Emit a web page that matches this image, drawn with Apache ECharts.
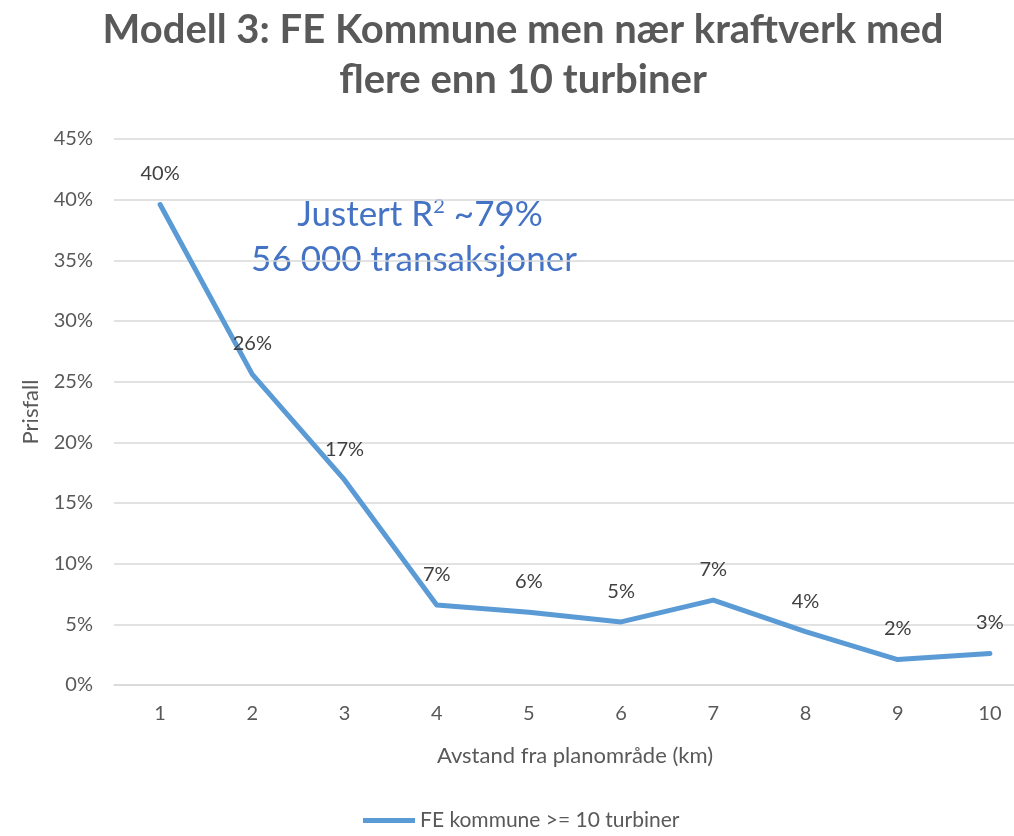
<!DOCTYPE html>
<html>
<head>
<meta charset="utf-8">
<script src="https://cdn.jsdelivr.net/npm/echarts@6/dist/echarts.min.js"></script>
<style>html,body{margin:0;padding:0;background:#fff;overflow:hidden}#c{width:1040px;height:836px}</style>
</head>
<body>
<div id="c"></div>
<script>
const categories = ['1','2','3','4','5','6','7','8','9','10'];
const seriesName = 'FE kommune >= 10 turbiner';
const values = [39.6, 25.6, 16.9, 6.6, 6.0, 5.2, 7.0, 4.4, 2.1, 2.6];
const yTicks = [0, 45, 5];
const titleLines = ['Modell 3: FE Kommune men nær kraftverk med', 'flere enn 10 turbiner'];
const note1 = 'Justert R';
const note2 = '56 000 transaksjoner';

const FONT = 'Lato';
const chart = echarts.init(document.getElementById('c'), null, {renderer: 'canvas'});
chart.setOption({
  animation: false,
  textStyle: {fontFamily: FONT},
  title: {
    text: titleLines.join('\n'),
    left: 518, top: 0, textAlign: 'center',
    textStyle: {fontFamily: FONT, fontSize: 40, fontWeight: 'bold', color: '#595959', lineHeight: 50}
  },
  grid: {left: 114, right: 4, top: 139, bottom: 151, containLabel: false},
  legend: {
    bottom: 0, left: 358,
    itemWidth: 52, itemHeight: 5, itemGap: 6,
    textStyle: {fontFamily: FONT, fontSize: 21, color: '#595959'},
    data: [{name: seriesName, icon: 'path://M0,0 L52,0 L52,5 L0,5 Z'}]
  },
  xAxis: {
    type: 'category', data: categories, boundaryGap: true,
    name: 'Avstand fra planområde (km)', nameLocation: 'middle', nameGap: 60,
    nameTextStyle: {fontFamily: FONT, fontSize: 22, color: '#595959'},
    axisLine: {show: true, lineStyle: {color: '#d9d9d9', width: 1.5}},
    axisTick: {show: false},
    axisLabel: {fontFamily: FONT, fontSize: 20, color: '#595959', margin: 19}
  },
  yAxis: {
    type: 'value', min: yTicks[0], max: yTicks[1], interval: yTicks[2],
    name: 'Prisfall', nameLocation: 'middle', nameGap: 72, nameRotate: 90,
    nameTextStyle: {fontFamily: FONT, fontSize: 22, color: '#595959'},
    axisLine: {show: false}, axisTick: {show: false},
    splitLine: {lineStyle: {color: '#d9d9d9', width: 1.5}},
    axisLabel: {fontFamily: FONT, fontSize: 20, color: '#595959', margin: 21, formatter: v => v + '%'}
  },
  series: [{
    name: seriesName, type: 'line', data: values,
    showSymbol: true, symbol: 'circle', symbolSize: 1,
    lineStyle: {color: '#5B9BD5', width: 5, cap: 'round', join: 'round'},
    itemStyle: {color: '#5B9BD5'},
    label: {show: true, position: 'top', distance: 20, fontFamily: FONT, fontSize: 20, color: '#404040',
      formatter: p => Math.round(p.value) + '%'}
  }],
  graphic: [
    {type: 'text', x: 420, y: 215, style: {
      text: '{a|' + note1 + '}{s|2}{a| ~79%}', align: 'center', verticalAlign: 'middle',
      rich: {
        a: {fontFamily: FONT, fontSize: 35, fill: '#4472C4', color: '#4472C4'},
        s: {fontFamily: FONT, fontSize: 20, fill: '#4472C4', color: '#4472C4', padding: [0, 0, 16, 0]}
      }
    }},
    {type: 'text', x: 414, y: 260, style: {
      text: note2, align: 'center', verticalAlign: 'middle',
      font: '35px ' + FONT, fill: '#4472C4'
    }}
  ]
});
</script>
</body>
</html>
